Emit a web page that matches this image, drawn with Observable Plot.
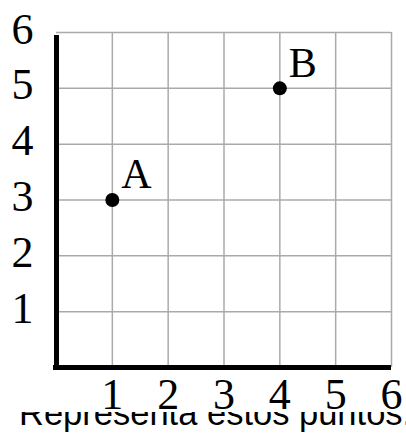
<!DOCTYPE html>
<html>
<head>
<meta charset="utf-8">
<script src="https://cdn.jsdelivr.net/npm/d3@7"></script>
<script src="https://cdn.jsdelivr.net/npm/@observablehq/plot@0.6"></script>
<style>
  html, body { margin: 0; padding: 0; background: #fff; overflow: hidden; }
  #wrap { width: 406px; height: 434px; overflow: hidden; position: relative; }
  #chart svg { display: block; background: #fff; position: relative; z-index: 1; overflow: hidden; }
  #caption {
    font-family: "Liberation Sans", Arial, sans-serif;
    font-size: 34.5px; line-height: 34.5px; color: #000;
    white-space: nowrap; margin-top: -16px; padding-left: 19px;
    position: relative; z-index: 0;
  }
</style>
</head>
<body>
<div id="wrap">
  <div id="chart"></div>
  <div id="caption"></div>
</div>
<script>
const pointNames = ["A", "B"];
const pointX = [1, 4];
const pointY = [3, 5];
const xTicks = [1, 2, 3, 4, 5, 6];
const yTicks = [1, 2, 3, 4, 5, 6];
const captionText = "Representa estos puntos.";

const points = pointNames.map((name, i) => ({name, x: pointX[i], y: pointY[i]}));
const serif = "'Liberation Serif', 'Times New Roman', serif";

const chart = Plot.plot({
  width: 406,
  height: 412,
  marginLeft: 56,
  marginRight: 15,
  marginTop: 32,
  marginBottom: 45,
  x: {domain: [0, 6]},
  y: {domain: [0, 6]},
  style: {background: "#fff", overflow: "hidden"},
  marks: [
    Plot.gridX(xTicks, {stroke: "#aaa", strokeOpacity: 1, strokeWidth: 1.5}),
    Plot.gridY(yTicks, {stroke: "#aaa", strokeOpacity: 1, strokeWidth: 1.5}),
    Plot.ruleX([0], {y1: 0, y2: 6, stroke: "#000", strokeWidth: 5, insetBottom: -3}),
    Plot.ruleY([0], {x1: 0, x2: 6, stroke: "#000", strokeWidth: 5, insetLeft: -3}),
    Plot.axisX({ticks: xTicks, tickFormat: d => String(d), tickSize: 0, tickPadding: 10, fontSize: 44, fontFamily: serif, fill: "#000", label: null}),
    Plot.axisY({ticks: yTicks, tickFormat: d => String(d), tickSize: 0, tickPadding: 23, fontSize: 44, fontFamily: serif, fill: "#000", label: null, dy: -3}),
    Plot.dot(points, {x: "x", y: "y", r: 7, fill: "#000", stroke: "none"}),
    Plot.text(points, {x: "x", y: "y", text: "name", textAnchor: "start", lineAnchor: "middle", dx: 9, dy: -25, fontSize: 42, fontFamily: serif, fill: "#000"})
  ]
});
document.getElementById("chart").appendChild(chart);
document.getElementById("caption").textContent = captionText;
</script>
</body>
</html>
